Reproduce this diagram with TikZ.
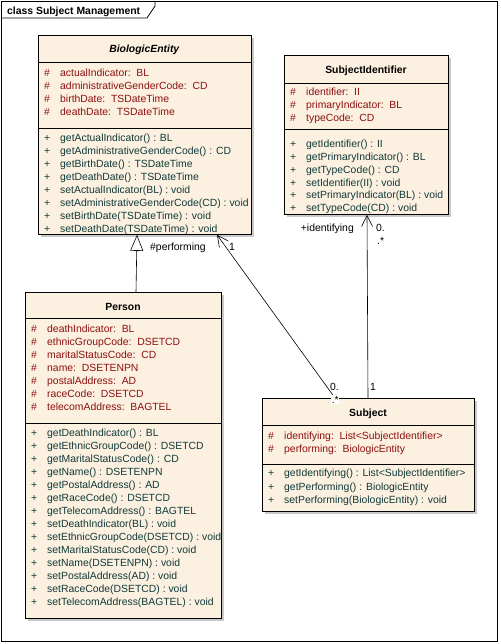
\documentclass[tikz,border=0pt]{standalone}
\usepackage{fontspec}
\setmainfont{Liberation Sans}
\usetikzlibrary{arrows.meta,shadows}
\definecolor{clsfill}{RGB}{252,240,224}
\definecolor{attrc}{RGB}{140,16,16}
\definecolor{opc}{RGB}{16,58,58}
\newcommand\umlfont{\fontsize{10.4}{12.5}\selectfont}
% #1 prefix, #2 left x, #3 first baseline, #4 spacing, #5 symbol, #6 colour, #7 list
\newcommand\classrows[7]{%
  \foreach \t [count=\i from 0] in {#7} {%
    \node[row, text=#6] (#1s\i) at (#2+6, {#3+#4*\i}) {#5};
    \node[row, text=#6] (#1t\i) at (#2+22, {#3+#4*\i}) {\t};
  }}
\begin{document}
\begin{tikzpicture}[x=1pt, y=-1pt,
  cls/.style={draw=black, fill=clsfill, line width=0.8pt, anchor=north west, inner sep=0pt,
              drop shadow={shadow xshift=3pt, shadow yshift=-3pt, fill=black!35, opacity=0.6}},
  sep/.style={draw=black, line width=0.8pt},
  row/.style={anchor=base west, inner sep=0pt, font=\umlfont},
  ctitle/.style={anchor=base, inner sep=0pt, font=\umlfont\bfseries},
  lbl/.style={anchor=base west, inner sep=0pt, font=\umlfont, text=black},
  assoc/.style={draw=black, line width=0.6pt, -{Straight Barb[length=11pt, width=11pt, line width=0.6pt]}},
  gen/.style={draw=black, line width=0.6pt, -{Triangle[open, length=16pt, width=13pt, line width=0.6pt, fill=white]}}
]
\useasboundingbox (0,0) rectangle (500,644);
\fill[white] (0,0) rectangle (500,644);
% frame
\node[draw=black, line width=0.8pt, anchor=north west, inner sep=0pt, minimum width=496pt, minimum height=640pt] (frame) at (1,1) {};
\draw[line width=0.8pt] (1,18) -- (147,18) -- (155,6) -- (155,1);
\node[anchor=base west, inner sep=0pt, font=\umlfont\bfseries] (ftitle) at (7,14.5) {class Subject Management};

% BiologicEntity
\node[cls, minimum width=213pt, minimum height=199pt] (bio) at (38,35) {};
\draw[sep] ([yshift=-27pt]bio.north west) -- ([yshift=-27pt]bio.north east);
\draw[sep] ([yshift=-93pt]bio.north west) -- ([yshift=-93pt]bio.north east);
\node[ctitle] (bioN) at (144.5,52.7) {\textit{BiologicEntity}};
\classrows{bioA}{38}{76.7}{12.9}{\#}{attrc}{actualIndicator:~~BL, administrativeGenderCode:~~CD, birthDate:~~TSDateTime, deathDate:~~TSDateTime}
\classrows{bioO}{38}{141.7}{12.9}{+}{opc}{getActualIndicator() : BL, getAdministrativeGenderCode() : CD, getBirthDate() : TSDateTime, getDeathDate() : TSDateTime, setActualIndicator(BL) : void, setAdministrativeGenderCode(CD) : void, setBirthDate(TSDateTime) : void, setDeathDate(TSDateTime) : void}

% SubjectIdentifier
\node[cls, minimum width=164pt, minimum height=159pt] (si) at (284,55) {};
\draw[sep] ([yshift=-28pt]si.north west) -- ([yshift=-28pt]si.north east);
\draw[sep] ([yshift=-74pt]si.north west) -- ([yshift=-74pt]si.north east);
\node[ctitle] (siN) at (366,73.7) {SubjectIdentifier};
\classrows{siA}{284}{95.7}{12.9}{\#}{attrc}{identifier:~~II, primaryIndicator:~~BL, typeCode:~~CD}
\classrows{siO}{284}{147.7}{12.8}{+}{opc}{getIdentifier() : II, getPrimaryIndicator() : BL, getTypeCode() : CD, setIdentifier(II) : void, setPrimaryIndicator(BL) : void, setTypeCode(CD) : void}

% Person
\node[cls, minimum width=196pt, minimum height=326pt] (person) at (25,292) {};
\draw[sep] ([yshift=-26pt]person.north west) -- ([yshift=-26pt]person.north east);
\draw[sep] ([yshift=-131pt]person.north west) -- ([yshift=-131pt]person.north east);
\node[ctitle] (personN) at (123,310.7) {Person};
\classrows{perA}{25}{332.7}{12.95}{\#}{attrc}{deathIndicator:~~BL, ethnicGroupCode:~~DSETCD, maritalStatusCode:~~CD, name:~~DSETENPN, postalAddress:~~AD, raceCode:~~DSETCD, telecomAddress:~~BAGTEL}
\classrows{perO}{25}{436.7}{13.0}{+}{opc}{getDeathIndicator() : BL, getEthnicGroupCode() : DSETCD, getMaritalStatusCode() : CD, getName() : DSETENPN, getPostalAddress() : AD, getRaceCode() : DSETCD, getTelecomAddress() : BAGTEL, setDeathIndicator(BL) : void, setEthnicGroupCode(DSETCD) : void, setMaritalStatusCode(CD) : void, setName(DSETENPN) : void, setPostalAddress(AD) : void, setRaceCode(DSETCD) : void, setTelecomAddress(BAGTEL) : void}

% Subject
\node[cls, minimum width=212pt, minimum height=113pt] (subj) at (262,398) {};
\draw[sep] ([yshift=-27pt]subj.north west) -- ([yshift=-27pt]subj.north east);
\draw[sep] ([yshift=-66pt]subj.north west) -- ([yshift=-66pt]subj.north east);
\node[ctitle] (subjN) at (368,416.7) {Subject};
\classrows{subA}{262}{439.7}{13.0}{\#}{attrc}{identifying:~~List<SubjectIdentifier>, performing:~~BiologicEntity}
\classrows{subO}{262}{476.7}{13.4}{+}{opc}{getIdentifying() : List<SubjectIdentifier>, getPerforming() : BiologicEntity, setPerforming(BiologicEntity) : void}

% connectors
\draw[gen] ([xshift=111pt]person.north west) -- ([xshift=99pt]bio.south west);
\draw[assoc] ([xshift=73pt]subj.north west) -- ([xshift=179pt]bio.south west);
\draw[assoc] ([xshift=106pt]subj.north west) -- ([xshift=83pt]si.south west);

% labels
\node[lbl, anchor=base east] (lIdent) at (354,231.5) {+identifying};
\node[lbl] (lSI0) at (376,231.5) {0.};
\node[lbl] (lSIs) at (377,244) {.*};
\node[lbl] (lPerf) at (150,250.5) {\#performing};
\node[lbl] (lBio1) at (229,250.5) {1};
\node[lbl] (lSub0) at (330,390.5) {0.};
\node[lbl, fill=white, inner sep=0.6pt] (lSubs) at (331,403) {.*};
\node[lbl] (lSub1) at (370,390.5) {1};
\end{tikzpicture}
\end{document}
